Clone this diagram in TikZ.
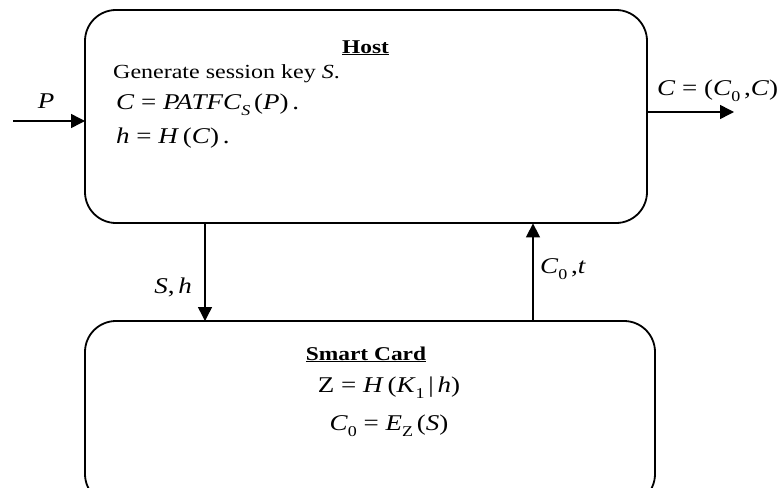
\documentclass[tikz,border=0pt]{standalone}
\usepackage{fontspec}
\setmainfont[FakeStretch=1.2]{Liberation Serif}
\usetikzlibrary{arrows.meta}

% italic variable and lowered index
\newcommand{\vr}[1]{\textit{#1}}
\newcommand{\sbs}[1]{\raisebox{-0.3em}{\fontsize{15}{15}\selectfont #1}}

\tikzset{
  block/.style={draw, line width=1.8pt, rounded corners=31pt},
  flow/.style={line width=1.5pt, -{Triangle[length=14pt,width=14pt]}},
  title/.style={font=\fontsize{19.5}{22}\selectfont\bfseries, inner sep=0pt},
  body/.style={font=\fontsize{20}{24}\selectfont, inner sep=0pt},
  formula/.style={font=\fontsize{22.5}{26}\selectfont, inner sep=0pt},
}

\begin{document}
\begin{tikzpicture}[x=1pt, y=-1pt]
  \useasboundingbox (0,0) rectangle (778,487);
  \begin{scope}
    \clip (0,0) rectangle (778,487);

    % the two blocks
    \draw[block] (85,10) rectangle (647,223);
    \node[inner sep=0pt, minimum width=562pt, minimum height=213pt, anchor=north west] (host) at (85,10) {};
    \draw[block] (85,321) rectangle (655,505);
    \node[inner sep=0pt, minimum width=570pt, minimum height=184pt, anchor=north west] (card) at (85,321) {};

    % host contents
    \node[title, anchor=base] (hosttitle) at (365.5,53) {\underline{Host}};
    \node[body, anchor=base west] (gen) at (113,78) {Generate session key \vr{S}.};
    \node[formula, anchor=base west] (enc) at (116,109)
      {\vr{C} = \vr{PATFC}\sbs{\vr{S}}\,(\vr{P})\,.};
    \node[formula, anchor=base west] (hash) at (116,143)
      {\vr{h} = \vr{H}\,(\vr{C})\,.};

    % smart card contents
    \node[title, anchor=base] (cardtitle) at (366,360) {\underline{Smart Card}};
    \node[formula, anchor=base] (zkey) at (389,392)
      {Z = \vr{H}\,(\vr{K}\sbs{1}\,|\,\vr{h})};
    \node[formula, anchor=base] (c0) at (389,430)
      {\vr{C}\sbs{0} = \vr{E}\sbs{Z}\,(\vr{S})};

    % connectors
    \coordinate (pin) at (13,121);
    \draw[flow] (pin) -- (host.west |- pin);
    \node[formula, anchor=base] (plabel) at (46,108) {\vr{P}};

    \coordinate (cout) at (734,112);
    \draw[flow] (host.east |- cout) -- (cout);
    \node[formula, anchor=base west] (clabel) at (657,95)
      {\vr{C} = (\vr{C}\sbs{0}\,,\vr{C})};

    \coordinate (sh) at (205,0);
    \draw[flow] (host.south -| sh) -- (card.north -| sh);
    \node[formula, anchor=base east] (shlabel) at (192,293) {\vr{S},\,\vr{h}};

    \coordinate (ct) at (533,0);
    \draw[flow] (card.north -| ct) -- (host.south -| ct);
    \node[formula, anchor=base west] (ctlabel) at (540,273) {\vr{C}\sbs{0}\,,\vr{t}};
  \end{scope}
\end{tikzpicture}
\end{document}
